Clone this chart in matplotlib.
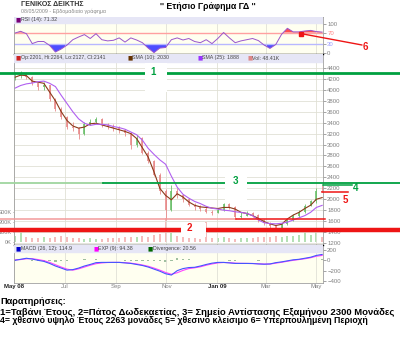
import numpy as np
import pandas as pd
import matplotlib
matplotlib.use('Agg')
import matplotlib.pyplot as plt
import matplotlib.transforms as mtransforms
from matplotlib.lines import Line2D
from matplotlib.patches import Rectangle

plt.rcParams['font.family'] = ['Liberation Sans', 'DejaVu Sans']

# weekly values, 2 May 2008 - 8 May 2009
dates = pd.date_range('2008-05-02', periods=54, freq='7D')
close = [4250, 4300, 4240, 4120, 4060, 4080, 3830, 3650, 3500, 3330,
         3300, 3200, 3380, 3420, 3470, 3360, 3330, 3300, 3270, 3210,
         3000, 3120, 2850, 2700, 2450, 2150, 1800, 2150, 2080, 2000,
         1900, 1850, 1830, 1770, 1750, 1800, 1910, 1850, 1680, 1700,
         1740, 1710, 1620, 1560, 1510, 1480, 1540, 1620, 1700, 1770,
         1880, 1960, 2150, 2141]
high = [4330, 4340, 4320, 4250, 4130, 4140, 4080, 3850, 3680, 3520,
        3420, 3330, 3410, 3460, 3510, 3480, 3400, 3370, 3340, 3290,
        3230, 3170, 3140, 2880, 2720, 2480, 2180, 2260, 2210, 2100,
        2020, 1930, 1890, 1850, 1800, 1840, 1940, 1930, 1870, 1760,
        1790, 1770, 1730, 1640, 1580, 1530, 1570, 1650, 1730, 1800,
        1910, 1990, 2200, 2264]
low = [4180, 4220, 4200, 4090, 3990, 4000, 3800, 3620, 3460, 3290,
       3250, 3110, 3180, 3360, 3390, 3330, 3290, 3250, 3220, 3150,
       2920, 2960, 2820, 2660, 2420, 2100, 1620, 1780, 2030, 1950,
       1870, 1810, 1790, 1740, 1720, 1740, 1780, 1820, 1640, 1650,
       1690, 1680, 1590, 1530, 1470, 1450, 1460, 1520, 1600, 1680,
       1740, 1870, 1940, 2127]
sma10 = [4230, 4270, 4260, 4160, 4140, 4120, 3960, 3800, 3600, 3440,
         3340, 3300, 3320, 3380, 3390, 3360, 3330, 3300, 3270, 3240,
         3200, 3110, 2940, 2770, 2500, 2200, 2070, 1990, 2100, 2040,
         1950, 1890, 1860, 1850, 1840, 1830, 1850, 1850, 1820, 1760,
         1740, 1700, 1650, 1590, 1550, 1520, 1540, 1640, 1710, 1760,
         1830, 1890, 2000, 2030]
sma25 = [4030, 4080, 4110, 4125, 4150, 4160, 4120, 4060, 3900, 3750,
         3600, 3470, 3390, 3350, 3370, 3370, 3360, 3330, 3310, 3280,
         3230, 3180, 3080, 2930, 2820, 2720, 2640, 2420, 2220, 2090,
         2020, 1960, 1920, 1870, 1835, 1820, 1800, 1790, 1770, 1760,
         1740, 1700, 1620, 1570, 1555, 1550, 1560, 1580, 1620, 1660,
         1700, 1760, 1850, 1888]
volume_k = [60, 100, 50, 45, 40, 50, 45, 55, 60, 50,
            45, 40, 35, 40, 30, 35, 40, 45, 40, 50,
            55, 50, 60, 55, 70, 80, 240, 90, 60, 50,
            45, 40, 35, 200, 40, 45, 50, 40, 35, 40,
            45, 40, 50, 55, 50, 60, 55, 60, 65, 70,
            140, 70, 110, 48.41]
rsi = [68, 74, 66, 33, 40, 40, 27, 5, 15, 28,
       46, 55, 63, 50, 66, 46, 42, 44, 52, 38,
       52, 45, 36, 18, 3, 18, 20, 46, 52, 45,
       50, 40, 36, 46, 33, 50, 70, 52, 36, 42,
       46, 50, 43, 28, 17, 30, 64, 84, 72, 72,
       75, 77, 73, 71.32]
macd = [0, 20, 40, 25, 0, -20, -60, -110, -150, -190,
        -180, -150, -110, -80, -45, -40, -40, -40, -40, -50,
        -60, -80, -100, -130, -170, -210, -260, -285, -200, -160,
        -140, -135, -110, -80, -55, -40, -40, -50, -60, -60,
        -60, -62, -70, -75, -70, -45, -30, -10, 10, 20,
        40, 60, 95, 114.9]
exp9 = [10, 15, 30, 32, 15, -5, -40, -85, -130, -170,
        -190, -165, -130, -95, -65, -50, -42, -40, -40, -45,
        -55, -70, -90, -115, -150, -190, -235, -270, -240, -195,
        -160, -145, -125, -95, -70, -50, -42, -45, -55, -58,
        -60, -61, -66, -72, -72, -55, -38, -18, 0, 15,
        30, 50, 80, 94.38]

# marked levels
level_top = 4300        # 1
level_bottom = 1440     # 2
level_oct_low = 1630
level_resist = 2300     # 3
level_year_high = 2263  # 4
level_last_close = 2141 # 5

month_ticks = pd.to_datetime(['2008-05-01', '2008-07-01', '2008-09-01', '2008-11-01',
                              '2009-01-01', '2009-03-01', '2009-05-01'])
month_labels = ['May 08', 'Jul', 'Sep', 'Nov', 'Jan 09', 'Mar', 'May']

W, H = 400, 364
fig = plt.figure(figsize=(W / 100, H / 100), dpi=100)


def rect(x0, y0, x1, y1):
    return [x0 / W, 1 - y1 / H, (x1 - x0) / W, (y1 - y0) / H]


def fx(x):
    return x / W


def fy(y):
    return 1 - y / H


BG = '#fffff0'
BAND = '#e6e6f6'
GRID = '#e0e0d6'
TICK = '#808080'
GREEN = '#00a040'
RED = '#ee1515'

ax_r = fig.add_axes(rect(14, 17, 323, 54))
ax_p = fig.add_axes(rect(14, 54, 323, 245))
ax_m = fig.add_axes(rect(14, 245, 323, 283))

for ax in (ax_r, ax_p, ax_m):
    ax.set_facecolor(BG)
    ax.set_xlim(pd.Timestamp('2008-05-01'), pd.Timestamp('2009-05-09'))
    ax.yaxis.tick_right()
    ax.tick_params(axis='y', labelsize=4.3, colors=TICK, length=2, width=0.5, pad=1)
    ax.set_xticks(month_ticks)
    ax.tick_params(axis='x', length=0, labelbottom=False)
    ax.grid(axis='x', color=GRID, lw=0.6)
    for s in ax.spines.values():
        s.set_color('#a0a0a0')
        s.set_linewidth(0.6)

# --- RSI panel ---
rsi_a = np.array(rsi)
ax_r.set_ylim(-1.7, 121.7)
ax_r.set_yticks([0, 30, 70, 100])
ax_r.axhline(70, color='#ffa0a0', lw=1.0)
ax_r.axhline(30, color='#b8b8ff', lw=1.0)
ax_r.fill_between(dates, rsi_a, 70, where=rsi_a > 70, interpolate=True, color='#ff4d4d', lw=0)
ax_r.fill_between(dates, rsi_a, 30, where=rsi_a < 30, interpolate=True, color='#4d4dff', lw=0)
ax_r.plot(dates, rsi_a, color='#9955cc', lw=0.7)
for lab, c in zip(ax_r.get_yticklabels(), [TICK, '#9999ff', '#ff8080', TICK]):
    lab.set_color(c)
ax_r.add_patch(Rectangle((0, 1 - 6 / 37), 1, 6 / 37, transform=ax_r.transAxes,
                         color=BAND, zorder=3))

# --- price panel with volume ---
ax_v = ax_p.twinx()
ax_v.set_zorder(ax_p.get_zorder() - 1)
ax_p.patch.set_visible(False)
ax_v.set_facecolor(BG)
ax_v.yaxis.tick_left()
ax_p.yaxis.tick_right()
ax_v.set_ylim(-30, 1880)
ax_v.set_yticks([0, 100, 200, 300])
ax_v.set_yticklabels(['0K', '100K', '200K', '300K'])
ax_v.tick_params(axis='y', labelsize=4, colors=TICK, length=1, width=0.5, pad=0.5)
for s in ax_v.spines.values():
    s.set_visible(False)

close_a = np.array(close)
opens = np.r_[close_a[0], close_a[:-1]]
up = close_a >= opens
bar_col = np.where(up, '#6cc06c', '#e88a8a')
ax_v.bar(dates, volume_k, width=2.5, color=np.where(up, '#b4e0b4', '#f4bcbc'), lw=0)

ax_p.set_ylim(1163, 4656)
ax_p.set_yticks(range(1200, 4401, 200))
ax_p.grid(axis='y', color=GRID, lw=0.6)
ax_p.vlines(dates, low, high, colors=bar_col, lw=0.6)
ax_p.vlines(dates, np.minimum(opens, close_a), np.maximum(opens, close_a), colors=bar_col, lw=1.2)
ax_p.plot(dates, sma10, color='#8b3a1a', lw=0.8)
ax_p.plot(dates, sma25, color='#b060f0', lw=0.8)
ax_p.spines['top'].set_color('black')
ax_p.spines['top'].set_linewidth(1)
ax_p.add_patch(Rectangle((0, 1 - 8 / 191), 1, 8 / 191, transform=ax_p.transAxes,
                         color=BAND, zorder=3))

# --- MACD panel ---
ax_m.set_ylim(-439, 297)
ax_m.set_yticks([-400, -200, 0, 200])
div = np.array(macd) - np.array(exp9)
ax_m.bar(dates, div, width=3, color='#9fbf9f', lw=0)
ax_m.plot(dates, exp9, color='#ff44ff', lw=0.8)
ax_m.plot(dates, macd, color='#4455ff', lw=0.8)
ax_m.spines['top'].set_color('black')
ax_m.spines['top'].set_linewidth(1)
ax_m.add_patch(Rectangle((0, 1 - 7 / 38), 1, 7 / 38, transform=ax_m.transAxes,
                         color=BAND, zorder=3))
ax_m.tick_params(axis='x', labelbottom=True, labelsize=4.3, colors=TICK, pad=1)
ax_m.set_xticklabels(month_labels)
for i in (0, 4):
    lab = ax_m.get_xticklabels()[i]
    lab.set_fontweight('bold')
    lab.set_color('#222222')

# --- header texts ---
def header(y, items):
    for x, col, label in items:
        fig.text(fx(x), fy(y), '■', color=col, fontsize=4, va='center', ha='left',
                 family=['DejaVu Sans'])
        fig.text(fx(x + 5), fy(y), label, color='#444444', fontsize=3.8, va='center', ha='left')


header(20, [(16, '#770077', 'RSI (14): 71.32')])
header(58, [(16, '#cc2222', 'Op:2201, Hi:2264, Lo:2127, Cl:2141'),
            (127, '#663300', 'SMA (10): 2030'),
            (197, '#9933ff', 'SMA (25): 1888'),
            (247, '#dd8888', 'Vol: 48.41K')])
header(248.5, [(16, '#0000cc', 'MACD (26, 12): 114.9'),
               (93, '#ff00ff', 'EXP (9): 94.38'),
               (148, '#006600', 'Divergence: 20.56')])

fig.text(fx(21), fy(4.5), 'ΓΕΝΙΚΟΣ ΔΕΙΚΤΗΣ', fontsize=5, fontweight='bold', color='#333333', va='center')
fig.text(fx(21), fy(11), '08/05/2009 - Εβδομαδιαίο γράφημα', fontsize=3.8, color='#888888', va='center')
fig.text(fx(208), fy(6.5), "'' Ετήσιο Γράφημα ΓΔ ''", fontsize=6.3, fontweight='bold',
         ha='center', va='center')

# --- marked levels across the figure ---
tp = mtransforms.blended_transform_factory(fig.transFigure, ax_p.transData)


def level(x0, x1, y, col, lw):
    fig.add_artist(Line2D([fx(x0), fx(x1)], [y, y], transform=tp, color=col, lw=lw, zorder=2))


level(0, 400, level_top, GREEN, 2.0)
level(0, 103, level_resist, '#9fd69f', 1.3)
level(103, 400, level_resist, GREEN, 1.3)
level(0, 236, level_oct_low, '#f29a9a', 1.1)
level(236, 325, level_oct_low, RED, 1.1)
level(0, 400, level_bottom, RED, 3.2)
level(323, 352, level_year_high, GREEN, 1.1)
level(322, 348, level_last_close, RED, 1.1)

for x0, y0, x1, y1 in [(145, 63, 167, 92), (225, 172, 247, 202), (181, 223, 206, 237)]:
    fig.add_artist(Rectangle((fx(x0), fy(y1)), (x1 - x0) / W, (y1 - y0) / H,
                             transform=fig.transFigure, facecolor='white',
                             edgecolor='none', zorder=3))

# oversold / overbought pointer
ax_r.plot([pd.Timestamp('2009-04-13')], [66], marker='s', ms=3.5, color=RED, zorder=5)
ax_r.annotate('', xy=(pd.Timestamp('2009-04-13'), 66), xycoords='data',
              xytext=(fx(362), fy(45)), textcoords='figure fraction',
              arrowprops=dict(arrowstyle='-', color=RED, lw=1, shrinkA=0, shrinkB=0),
              annotation_clip=False)

for x, y, t, c in [(153, 72, '1', GREEN), (189, 228, '2', RED), (235, 181, '3', GREEN),
                   (356, 188, '4', GREEN), (345, 200, '5', RED), (365, 47, '6', RED)]:
    fig.text(fx(x), fy(y), t, color=c, fontsize=7, fontweight='bold',
             ha='center', va='center', zorder=4)

# --- notes ---
fig.text(fx(0), fy(301.5), 'Παρατηρήσεις:', fontsize=6.6, fontweight='bold', va='center')
fig.text(fx(0), fy(312.3),
         '1=Ταβάνι Έτους, 2=Πάτος Δωδεκαετίας, 3= Σημείο Αντίστασης Εξαμήνου 2300 Μονάδες',
         fontsize=6.8, fontweight='bold', va='center')
fig.text(fx(0), fy(320.7),
         '4= χθεσινό υψηλό Έτους 2263 μονάδες 5= χθεσινό κλείσιμο 6= Υπερπουλημένη Περιοχή',
         fontsize=6.3, fontweight='bold', va='center')

fig.savefig('out.png', dpi=100, facecolor='white')
